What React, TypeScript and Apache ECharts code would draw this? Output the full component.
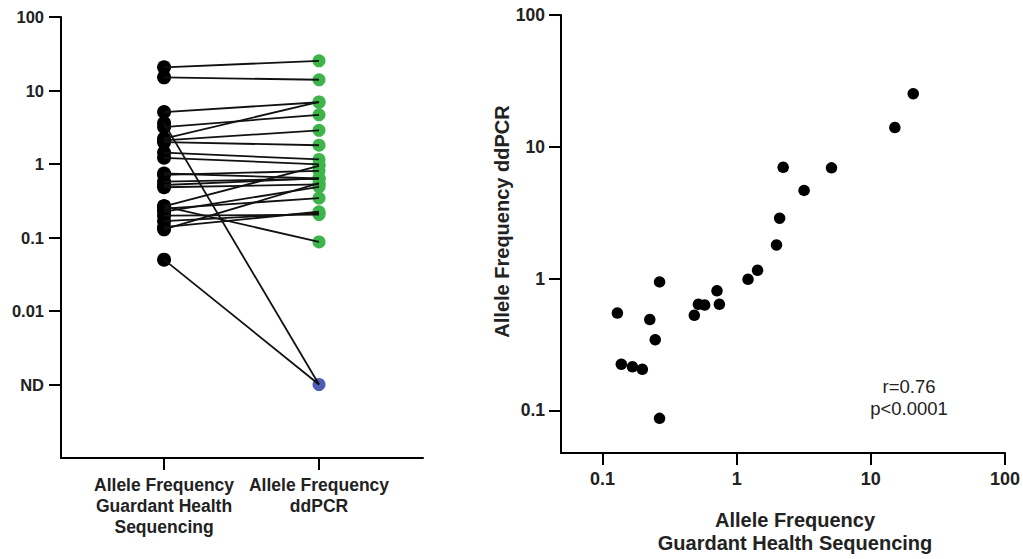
import React, { useEffect, useRef } from 'react';
import * as echarts from 'echarts';

// ---- data ----
const pairCategories = ['Allele Frequency\nGuardant Health\nSequencing', 'Allele Frequency\nddPCR'];
// paired allele frequencies (%); null ddPCR = not detected (ND)
const guardantAF = [20.7, 15.1, 2.22, 5.09, 3.18, 2.09, 1.98, 1.43, 1.215, 0.266, 0.713, 0.518, 0.577, 0.743, 0.129, 0.225, 0.483, 0.247, 0.138, 0.167, 0.198, 0.266, 0.05, 3.6];
const ddpcrAF: (number | null)[] = [25.3, 14.0, 6.99, 6.92, 4.67, 2.87, 1.8, 1.155, 0.988, 0.944, 0.808, 0.638, 0.63, 0.638, 0.548, 0.489, 0.527, 0.344, 0.224, 0.214, 0.205, 0.087, null, null];
const ND_VALUE = 0.001;
const leftTickValues = [0.001, 0.01, 0.1, 1, 10, 100];
const leftTickLabels = ['ND', '0.01', '0.1', '1', '10', '100'];
const rightTickValues = [0.1, 1, 10, 100];
const rightTickLabels = ['0.1', '1', '10', '100'];
const xTitle = 'Allele Frequency\nGuardant Health Sequencing';
const yTitle = 'Allele Frequency ddPCR';
const statsText = ['r=0.76', 'p<0.0001'];

const FONT = '"Liberation Sans", Arial, Helvetica, sans-serif';
const GREEN = '#3db54a';
const BLUE = '#4e5cb3';

function labelFor(values: number[], labels: string[]) {
  return (v: number) => {
    for (let i = 0; i < values.length; i++) {
      if (Math.abs(Math.log10(v) - Math.log10(values[i])) < 1e-6) return labels[i];
    }
    return '';
  };
}

const axisLine = { show: true, onZero: false, lineStyle: { color: '#000', width: 2 } };
const axisTick = { show: true, length: 12, lineStyle: { color: '#000', width: 2 } };

export default function App() {
  const ref = useRef<HTMLDivElement>(null);
  useEffect(() => {
    if (!ref.current) return;
    const chart = echarts.init(ref.current, undefined, { renderer: 'svg' });

    const lineSeries = guardantAF.map((g, i) => ({
      type: 'line',
      xAxisIndex: 0,
      yAxisIndex: 0,
      data: [[0, g], [1, ddpcrAF[i] == null ? ND_VALUE : ddpcrAF[i]]],
      showSymbol: false,
      symbol: 'none',
      lineStyle: { color: '#111', width: 1.8 },
      z: 5,
      silent: true,
    }));

    const scatterPairs = guardantAF
      .map((g, i) => [g, ddpcrAF[i]])
      .filter((p) => p[1] != null);

    const option: any = {
      animation: false,
      grid: [
        { left: 61, top: 17, width: 362, height: 441 },
        { left: 561, top: 15, width: 444, height: 441 },
      ],
      xAxis: [
        {
          gridIndex: 0,
          type: 'value',
          min: -0.665,
          max: 1.671,
          axisLine,
          axisTick: { ...axisTick, customValues: [0, 1] },
          splitLine: { show: false },
          axisLabel: {
            customValues: [0, 1],
            formatter: (v: number) => pairCategories[Math.round(v)] ?? '',
            margin: 16,
            fontFamily: FONT,
            fontWeight: 'bold',
            fontSize: 17.5,
            lineHeight: 21,
            color: '#222',
          },
        },
        {
          gridIndex: 1,
          type: 'log',
          logBase: 10,
          min: 0.049,
          max: 100,
          axisLine,
          axisTick: { ...axisTick, customValues: rightTickValues },
          splitLine: { show: false },
          minorTick: { show: false },
          axisLabel: {
            customValues: rightTickValues,
            formatter: labelFor(rightTickValues, rightTickLabels),
            margin: 17,
            fontFamily: FONT,
            fontWeight: 'bold',
            fontSize: 18,
            color: '#222',
          },
          name: xTitle,
          nameLocation: 'middle',
          nameGap: 55,
          nameTextStyle: {
            fontFamily: FONT,
            fontWeight: 'bold',
            fontSize: 20,
            lineHeight: 23,
            color: '#222',
            padding: [0, 0, 0, 24],
          },
        },
      ],
      yAxis: [
        {
          gridIndex: 0,
          type: 'log',
          logBase: 10,
          min: 0.0001,
          max: 100,
          axisLine,
          axisTick: { ...axisTick, customValues: leftTickValues },
          splitLine: { show: false },
          axisLabel: {
            customValues: leftTickValues,
            formatter: labelFor(leftTickValues, leftTickLabels),
            margin: 17,
            fontFamily: FONT,
            fontWeight: 'bold',
            fontSize: 16.5,
            color: '#222',
          },
        },
        {
          gridIndex: 1,
          type: 'log',
          logBase: 10,
          min: 0.0475,
          max: 100,
          axisLine,
          axisTick: { ...axisTick, customValues: rightTickValues },
          splitLine: { show: false },
          axisLabel: {
            customValues: rightTickValues,
            formatter: labelFor(rightTickValues, rightTickLabels),
            margin: 16,
            fontFamily: FONT,
            fontWeight: 'bold',
            fontSize: 17.5,
            color: '#222',
          },
          name: yTitle,
          nameLocation: 'middle',
          nameGap: 49,
          nameTextStyle: {
            fontFamily: FONT,
            fontWeight: 'bold',
            fontSize: 20,
            color: '#222',
            padding: [0, 0, 0, 25],
          },
        },
      ],
      series: [
        {
          type: 'scatter',
          xAxisIndex: 0,
          yAxisIndex: 0,
          data: guardantAF.map((g) => [0, g]),
          symbolSize: 14,
          itemStyle: { color: '#000', opacity: 1 },
          z: 3,
        },
        {
          type: 'scatter',
          xAxisIndex: 0,
          yAxisIndex: 0,
          data: ddpcrAF.filter((d) => d != null).map((d) => [1, d]),
          symbolSize: 13,
          itemStyle: { color: GREEN, opacity: 1 },
          z: 3,
        },
        {
          type: 'scatter',
          xAxisIndex: 0,
          yAxisIndex: 0,
          data: ddpcrAF.filter((d) => d == null).slice(0, 1).map(() => [1, ND_VALUE]),
          symbolSize: 13,
          itemStyle: { color: BLUE, opacity: 1 },
          z: 3,
        },
        ...lineSeries,
        {
          type: 'scatter',
          xAxisIndex: 1,
          yAxisIndex: 1,
          data: scatterPairs,
          symbolSize: 11.5,
          itemStyle: { color: '#000', opacity: 1 },
        },
      ],
      graphic: [
        {
          type: 'text',
          x: 909,
          y: 397,
          style: {
            text: statsText.join('\n'),
            fontFamily: FONT,
            fontSize: 18.5,
            lineHeight: 22,
            fill: '#222',
            align: 'center',
            verticalAlign: 'middle',
          },
        },
      ],
    };
    chart.setOption(option);
    return () => chart.dispose();
  }, []);
  return (
    <div
      ref={ref}
      style={{ position: 'absolute', left: 0, top: 0, width: 1023, height: 559, background: '#fff' }}
    />
  );
}
